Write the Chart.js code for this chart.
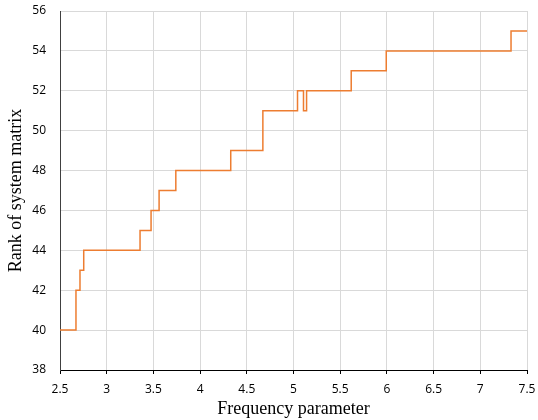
<!DOCTYPE html>
<html>
<head>
<meta charset="utf-8">
<script src="https://cdn.jsdelivr.net/npm/chart.js@4/dist/chart.umd.min.js"></script>
<style>
  html, body { margin: 0; padding: 0; background: #fff; overflow: hidden; }
  canvas { display: block; }
</style>
</head>
<body>
<canvas id="rankChart" width="538" height="420"></canvas>
<script>
// frequency where each new rank starts
var freqSteps = [2.5, 2.671, 2.714, 2.754, 3.357, 3.475, 3.561, 3.74, 4.328, 4.672, 5.043, 5.107, 5.14, 5.618, 5.993, 7.329, 7.5];
// rank of system matrix from that frequency on
var rankVals  = [40, 42, 43, 44, 45, 46, 47, 48, 49, 51, 52, 51, 52, 53, 54, 55, 55];

var xTitle = "Frequency parameter";
var yTitle = "Rank of system matrix";

var tickFont = { family: "'Open Sans', sans-serif", size: 12 };
var titleFont = { family: "'Liberation Serif', 'Times New Roman', serif", size: 18 };

var pts = freqSteps.map((f, i) => ({ x: f, y: rankVals[i] }));

var ctx = document.getElementById("rankChart").getContext("2d");
var chart = new Chart(ctx, {
	type: "line",
	data: {
		datasets: [{
			data: pts,
			borderColor: "#ED7D31",
			backgroundColor: "#ED7D31",
			borderWidth: 1.5,
			pointRadius: 0,
			stepped: "before",
			fill: false
		}]
	},
	options: {
		responsive: false,
		animation: false,
		devicePixelRatio: 1,
		layout: { padding: { left: 0, right: 11, top: 11, bottom: 0 } },
		plugins: { legend: { display: false }, tooltip: { enabled: false } },
		scales: {
			x: {
				type: "linear",
				min: 2.5,
				max: 7.5,
				ticks: {
					stepSize: 0.5, color: "#000", font: tickFont, padding: 8, maxRotation: 0,
					callback: v => String(+v.toFixed(1))
				},
				grid: { color: "#d9d9d9", tickColor: "#000", tickLength: 4 },
				border: { color: "#000", width: 1 },
				title: { display: true, text: xTitle, color: "#000", font: titleFont, padding: { top: 0, bottom: 0 } },
				afterFit: s => { s.height = 50; s.paddingLeft = 0; s.paddingRight = 0; }
			},
			y: {
				min: 38,
				max: 56,
				ticks: { stepSize: 2, color: "#000", font: tickFont, padding: 14 },
				grid: { color: "#d9d9d9", drawTicks: false },
				border: { color: "#404040", width: 1 },
				title: { display: true, text: yTitle, color: "#000", font: titleFont, padding: { top: 5, bottom: 0 } },
				afterFit: s => { s.width = 60; s.paddingTop = 0; s.paddingBottom = 0; }
			}
		}
	}
});
</script>
</body>
</html>
